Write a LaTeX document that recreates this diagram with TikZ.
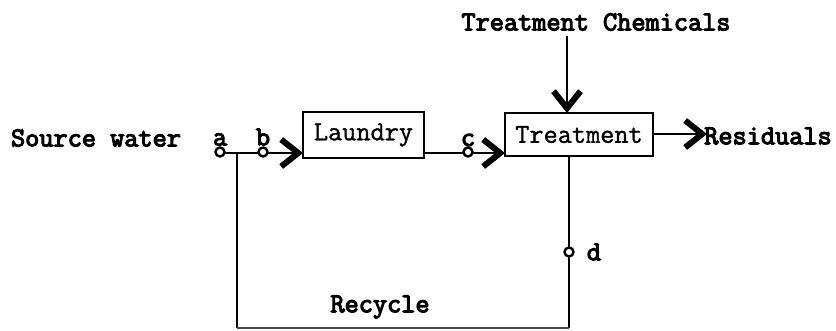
\documentclass[tikz,border=0pt]{standalone}
\usepackage{fontspec}
\setmonofont{Latin Modern Mono}
\newfontfamily\heavytt{Latin Modern Mono}[FakeBold=4]
\newfontfamily\unittt{Latin Modern Mono}[FakeBold=1.2]
\usetikzlibrary{arrows.meta}
\begin{document}
\begin{tikzpicture}[x=1pt,y=-1pt,
  lbl/.style={font=\heavytt\fontsize{27.5}{30}\selectfont, inner sep=0pt},
  unit/.style={draw, line width=1.8pt, font=\unittt\fontsize{27.5}{30}\selectfont, inner sep=0pt},
  tap/.style={circle, draw, line width=2.4pt, minimum size=9pt, inner sep=0pt, fill=white},
  flow/.style={line width=1.8pt},
  chev/.style={flow, -{Straight Barb[length=17pt,width=27pt,line width=6pt]}}]
\useasboundingbox (0,0) rectangle (836,330);

% process units
\node[unit, minimum width=121pt, minimum height=46pt] (laundry) at (363.5,135) {Laundry};
\node[unit, minimum width=148pt, minimum height=43pt] (treat) at (579,134.5) {Treatment};

% text labels
\node[lbl] (src) at (96,138) {Source water};
\node[lbl] (chem) at (596,22) {Treatment Chemicals};
\node[lbl] (resid) at (768,136) {Residuals};
\node[lbl] (rec) at (380,307) {Recycle};

% connection points
\coordinate (inL) at (303,153);
\coordinate (inT) at (505,153);
\coordinate (outL) at (424,153);
\coordinate (j) at (237,153);
\coordinate (jb) at (237,328);
\coordinate (tb) at (569,156);
\coordinate (rb) at (569,328);
\coordinate (ch1) at (567,36);
\coordinate (ch2) at (567,113);
\coordinate (ro1) at (653,134);
\coordinate (ro2) at (707,134);

% main flow line
\draw[flow] (220,153) -- (j);
\draw[chev] (j) -- (inL);
\draw[chev] (outL) -- (inT);
\draw[chev] (ch1) -- (ch2);
\draw[chev] (ro1) -- (ro2);

% recycle loop
\draw[flow] (j) -- (jb);
\draw[flow] (tb) -- (rb);
\draw[line width=1.2pt, black!70] (jb) -- (rb);

% sampling points
\node[tap] (pa) at (220,152) {};
\node[tap] (pb) at (263,152) {};
\node[tap] (pc) at (468,152) {};
\node[tap] (pd) at (569,252) {};
\node[lbl, above=0.5pt] (la) at (pa.north) {a};
\node[lbl, above=0.5pt] (lb) at (pb.north) {b};
\node[lbl, above=0pt] (lc) at (pc.north) {c};
\node[lbl, right=12pt] (ld) at (pd.east) {d};
\end{tikzpicture}
\end{document}
